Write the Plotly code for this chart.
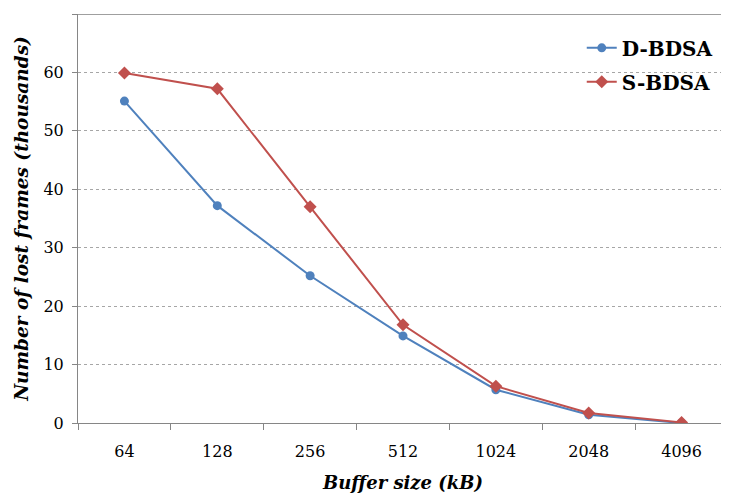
import plotly.graph_objects as go

categories = ["64", "128", "256", "512", "1024", "2048", "4096"]
d_bdsa = [55.1, 37.2, 25.2, 14.9, 5.7, 1.4, 0.0]
s_bdsa = [59.9, 57.2, 37.0, 16.8, 6.3, 1.7, 0.1]
y_ticks = [0, 10, 20, 30, 40, 50, 60, 70]

fig = go.Figure()
fig.add_trace(go.Scatter(x=categories, y=d_bdsa, name="D-BDSA", mode="lines+markers",
                         legendgroup="d",
                         line=dict(color="#4F81BD", width=2),
                         marker=dict(symbol="circle", size=9, color="#4F81BD")))
fig.add_trace(go.Scatter(x=categories, y=s_bdsa, name="S-BDSA", mode="lines+markers",
                         legendgroup="s",
                         line=dict(color="#C0504D", width=2),
                         marker=dict(symbol="diamond", size=10, color="#C0504D")))

font_serif = "DejaVu Serif"
fig.update_layout(
    width=721, height=487,
    margin=dict(l=70, r=1, t=6, b=72),
    paper_bgcolor="white", plot_bgcolor="white",
    font=dict(family=font_serif, color="black", size=16),
    legend=dict(x=0.775, y=0.965, xanchor="left", yanchor="top",
                font=dict(family=font_serif, size=20, color="black", weight="bold"),
                bgcolor="rgba(0,0,0,0)", tracegroupgap=5, itemwidth=30),
    showlegend=True,
)
fig.update_xaxes(
    type="category", categoryorder="array", categoryarray=categories,
    range=[-0.5, 6.5], automargin=False,
    showline=True, linecolor="#868686", linewidth=1,
    showgrid=False, zeroline=False,
    ticks="outside", ticklen=6, tickcolor="#868686", tickson="boundaries",
    ticklabelstandoff=14,
    tickfont=dict(size=16, family=font_serif),
    title=dict(text="<b><i>Buffer size (kB)</i></b>", font=dict(size=18, family=font_serif), standoff=16),
)
fig.update_yaxes(
    range=[0, 70], tickvals=y_ticks, automargin=False,
    showline=True, linecolor="#868686", linewidth=1,
    showgrid=True, gridcolor="#A6A6A6", griddash="dot", gridwidth=1,
    zeroline=False,
    ticks="outside", ticklen=5, tickcolor="#868686",
    ticklabelstandoff=5,
    tickfont=dict(size=16, family=font_serif),
    title=dict(text="<b><i>Number of lost frames (thousands)</i></b>", font=dict(size=18.5, family=font_serif), standoff=9),
)
fig.add_shape(type="line", xref="paper", yref="y", x0=0, x1=1, y0=70, y1=70,
              line=dict(color="#404040", width=1))

fig.write_html("out.html")
